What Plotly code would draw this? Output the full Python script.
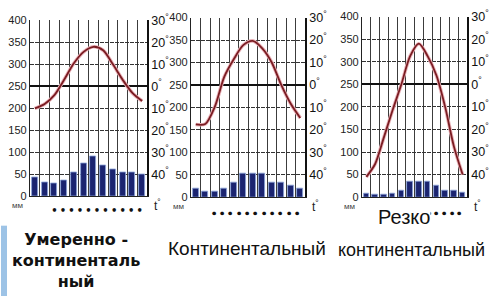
import plotly.graph_objects as go

# ---------------- data ----------------
months = list(range(12))  # Jan..Dec as positions

precip_moderate = [43, 32, 30, 36, 54, 74, 90, 70, 61, 54, 54, 50]
temp_moderate = [-10, -8, -4, 3, 10.5, 15.7, 18, 16.4, 10, 3, -3, -6.7]

precip_continental = [19, 12, 12, 20, 32, 53, 53, 53, 32, 32, 25, 20]
temp_continental = [-17.6, -17.4, -9.8, 3.6, 11.4, 17.7, 19.6, 16.3, 10, 0, -8.4, -14.7]

precip_sharp = [7, 5, 5, 8, 15, 35, 35, 35, 25, 15, 14, 10]
temp_sharp = [-41, -35.3, -23.5, -11.4, 0, 12.5, 18, 12.5, 4, -10, -27.5, -40]

mm_ticks = [0, 50, 100, 150, 200, 250, 300, 350, 400]
mm_labels = ["0", "50", "100", "150", "200", "250", "300", "350", "400"]
t_ticks = [30, 20, 10, 0, -10, -20, -30, -40]
t_labels = [f"{abs(t)}<sup>°</sup>" for t in t_ticks]

month_mark_pos = [2 + 0.875 * k for k in range(11)]
month_mark_text = ["<b>•</b>"] * 11

titles = [
    "Умеренно -<br>континенталь<br>ный",
    "Континентальный",
    "Резко",
    "континентальный",
]

# ---------------- layout geometry ----------------
W, H = 500, 302
panels = [
    dict(x0=30, x1=147, y0=12, y1=197, p=precip_moderate, t=temp_moderate),
    dict(x0=191, x1=305, y0=9, y1=198, p=precip_continental, t=temp_continental),
    dict(x0=362, x1=467, y0=8, y1=198, p=precip_sharp, t=temp_sharp),
]

fig = go.Figure()
layout = dict(
    width=W, height=H, margin=dict(l=0, r=0, t=0, b=0),
    paper_bgcolor="white", plot_bgcolor="white", showlegend=False,
)

BAR = "#1b2470"
LINE = "#7a1c22"
GRID_H = "#333333"
GRID_V = "#3c3c3c"


def ann(text, px, py, size, family="Liberation Sans", color="#222", **kw):
    return dict(text=text, xref="paper", yref="paper", x=px / W, y=1 - py / H,
                xanchor="center", yanchor="middle", showarrow=False,
                font=dict(family=family, size=size, color=color), **kw)


annotations = []
for i, pn in enumerate(panels):
    xa = "x" if i == 0 else f"x{i+1}"
    ya_mm = "y" if i == 0 else f"y{2*i+1}"
    ya_t = f"y{2*i+2}"
    xkey = "xaxis" if i == 0 else f"xaxis{i+1}"
    ymk = "yaxis" if i == 0 else f"yaxis{2*i+1}"
    ytk = f"yaxis{2*i+2}"
    xd = [pn["x0"] / W, pn["x1"] / W]
    yd = [1 - pn["y1"] / H, 1 - pn["y0"] / H]

    fig.add_trace(go.Bar(x=months, y=pn["p"], xaxis=xa, yaxis=ya_mm, width=0.62,
                         marker=dict(color=BAR, line=dict(color="#8aa3d8", width=0.8))))
    fig.add_trace(go.Scatter(x=months, y=pn["t"], xaxis=xa, yaxis=ya_t, mode="lines",
                             line=dict(color="#e9b3b9", width=3.6, shape="spline", smoothing=0.8)))
    fig.add_trace(go.Scatter(x=months, y=pn["t"], xaxis=xa, yaxis=ya_t, mode="lines",
                             line=dict(color=LINE, width=1.8, shape="spline", smoothing=0.8)))

    layout[xkey] = dict(
        domain=xd, anchor=ya_mm, range=[-0.5, 11.5],
        tickmode="array", tickvals=month_mark_pos, ticktext=month_mark_text,
        tickfont=dict(family="DejaVu Sans", size=10, color="#111"),
        ticks="outside", ticklen=5, tickcolor="rgba(0,0,0,0)",
        showgrid=False, showline=True, linecolor="#222", linewidth=1,
        minor=dict(tickmode="array", tickvals=[k + 0.5 for k in range(11)],
                   showgrid=True, gridcolor=GRID_V, gridwidth=1, ticks=""),
        zeroline=False, fixedrange=True,
    )
    layout[ymk] = dict(
        domain=yd, anchor=xa, range=[0, 400],
        tickmode="array", tickvals=mm_ticks, ticktext=mm_labels,
        tickfont=dict(family="Liberation Sans", size=11, color="#222"),
        showgrid=True, gridcolor=GRID_H, gridwidth=1.2, griddash="4px,1px",
        showline=True, linecolor="#222", linewidth=1.2,
        zeroline=False, ticks="", fixedrange=True,
    )
    layout[ytk] = dict(
        overlaying=ya_mm, anchor=xa, side="right", range=[-50, 30],
        tickmode="array", tickvals=t_ticks, ticktext=t_labels,
        tickfont=dict(family="Liberation Sans", size=12.5, color="#111"),
        showgrid=False, showline=True, linecolor="#111", linewidth=1.5,
        zeroline=True, zerolinecolor="#111", zerolinewidth=2,
        ticks="", fixedrange=True,
    )

    # unit labels
    annotations.append(ann("мм", pn["x0"] - 13, pn["y1"] + 10, 8, color="#444"))
    annotations.append(ann("t<sup>°</sup>", pn["x1"] + 10, pn["y1"] + 9, 12))

# bottom captions
annotations.append(ann("<b>" + titles[0] + "</b>", 76, 265, 16, family="DejaVu Sans",
                       color="#111", align="center"))
annotations.append(ann(titles[1], 247, 252, 19, family="Liberation Sans Narrow, Liberation Sans, sans-serif",
                       color="#111"))
annotations.append(ann(titles[2], 404, 219, 20, family="Liberation Sans Narrow, Liberation Sans, sans-serif",
                       color="#111", bgcolor="white", borderpad=0))
annotations.append(ann(titles[3], 411, 254, 18, family="Liberation Sans Narrow, Liberation Sans, sans-serif",
                       color="#111"))

layout["annotations"] = annotations
layout["shapes"] = [dict(type="rect", xref="paper", yref="paper",
                         x0=1 / W, x1=7 / W, y0=0, y1=1 - 228 / H,
                         fillcolor="#9dc3e6", line=dict(width=0))]
layout["bargap"] = 0
fig.update_layout(**layout)
fig.write_html("out.html")
